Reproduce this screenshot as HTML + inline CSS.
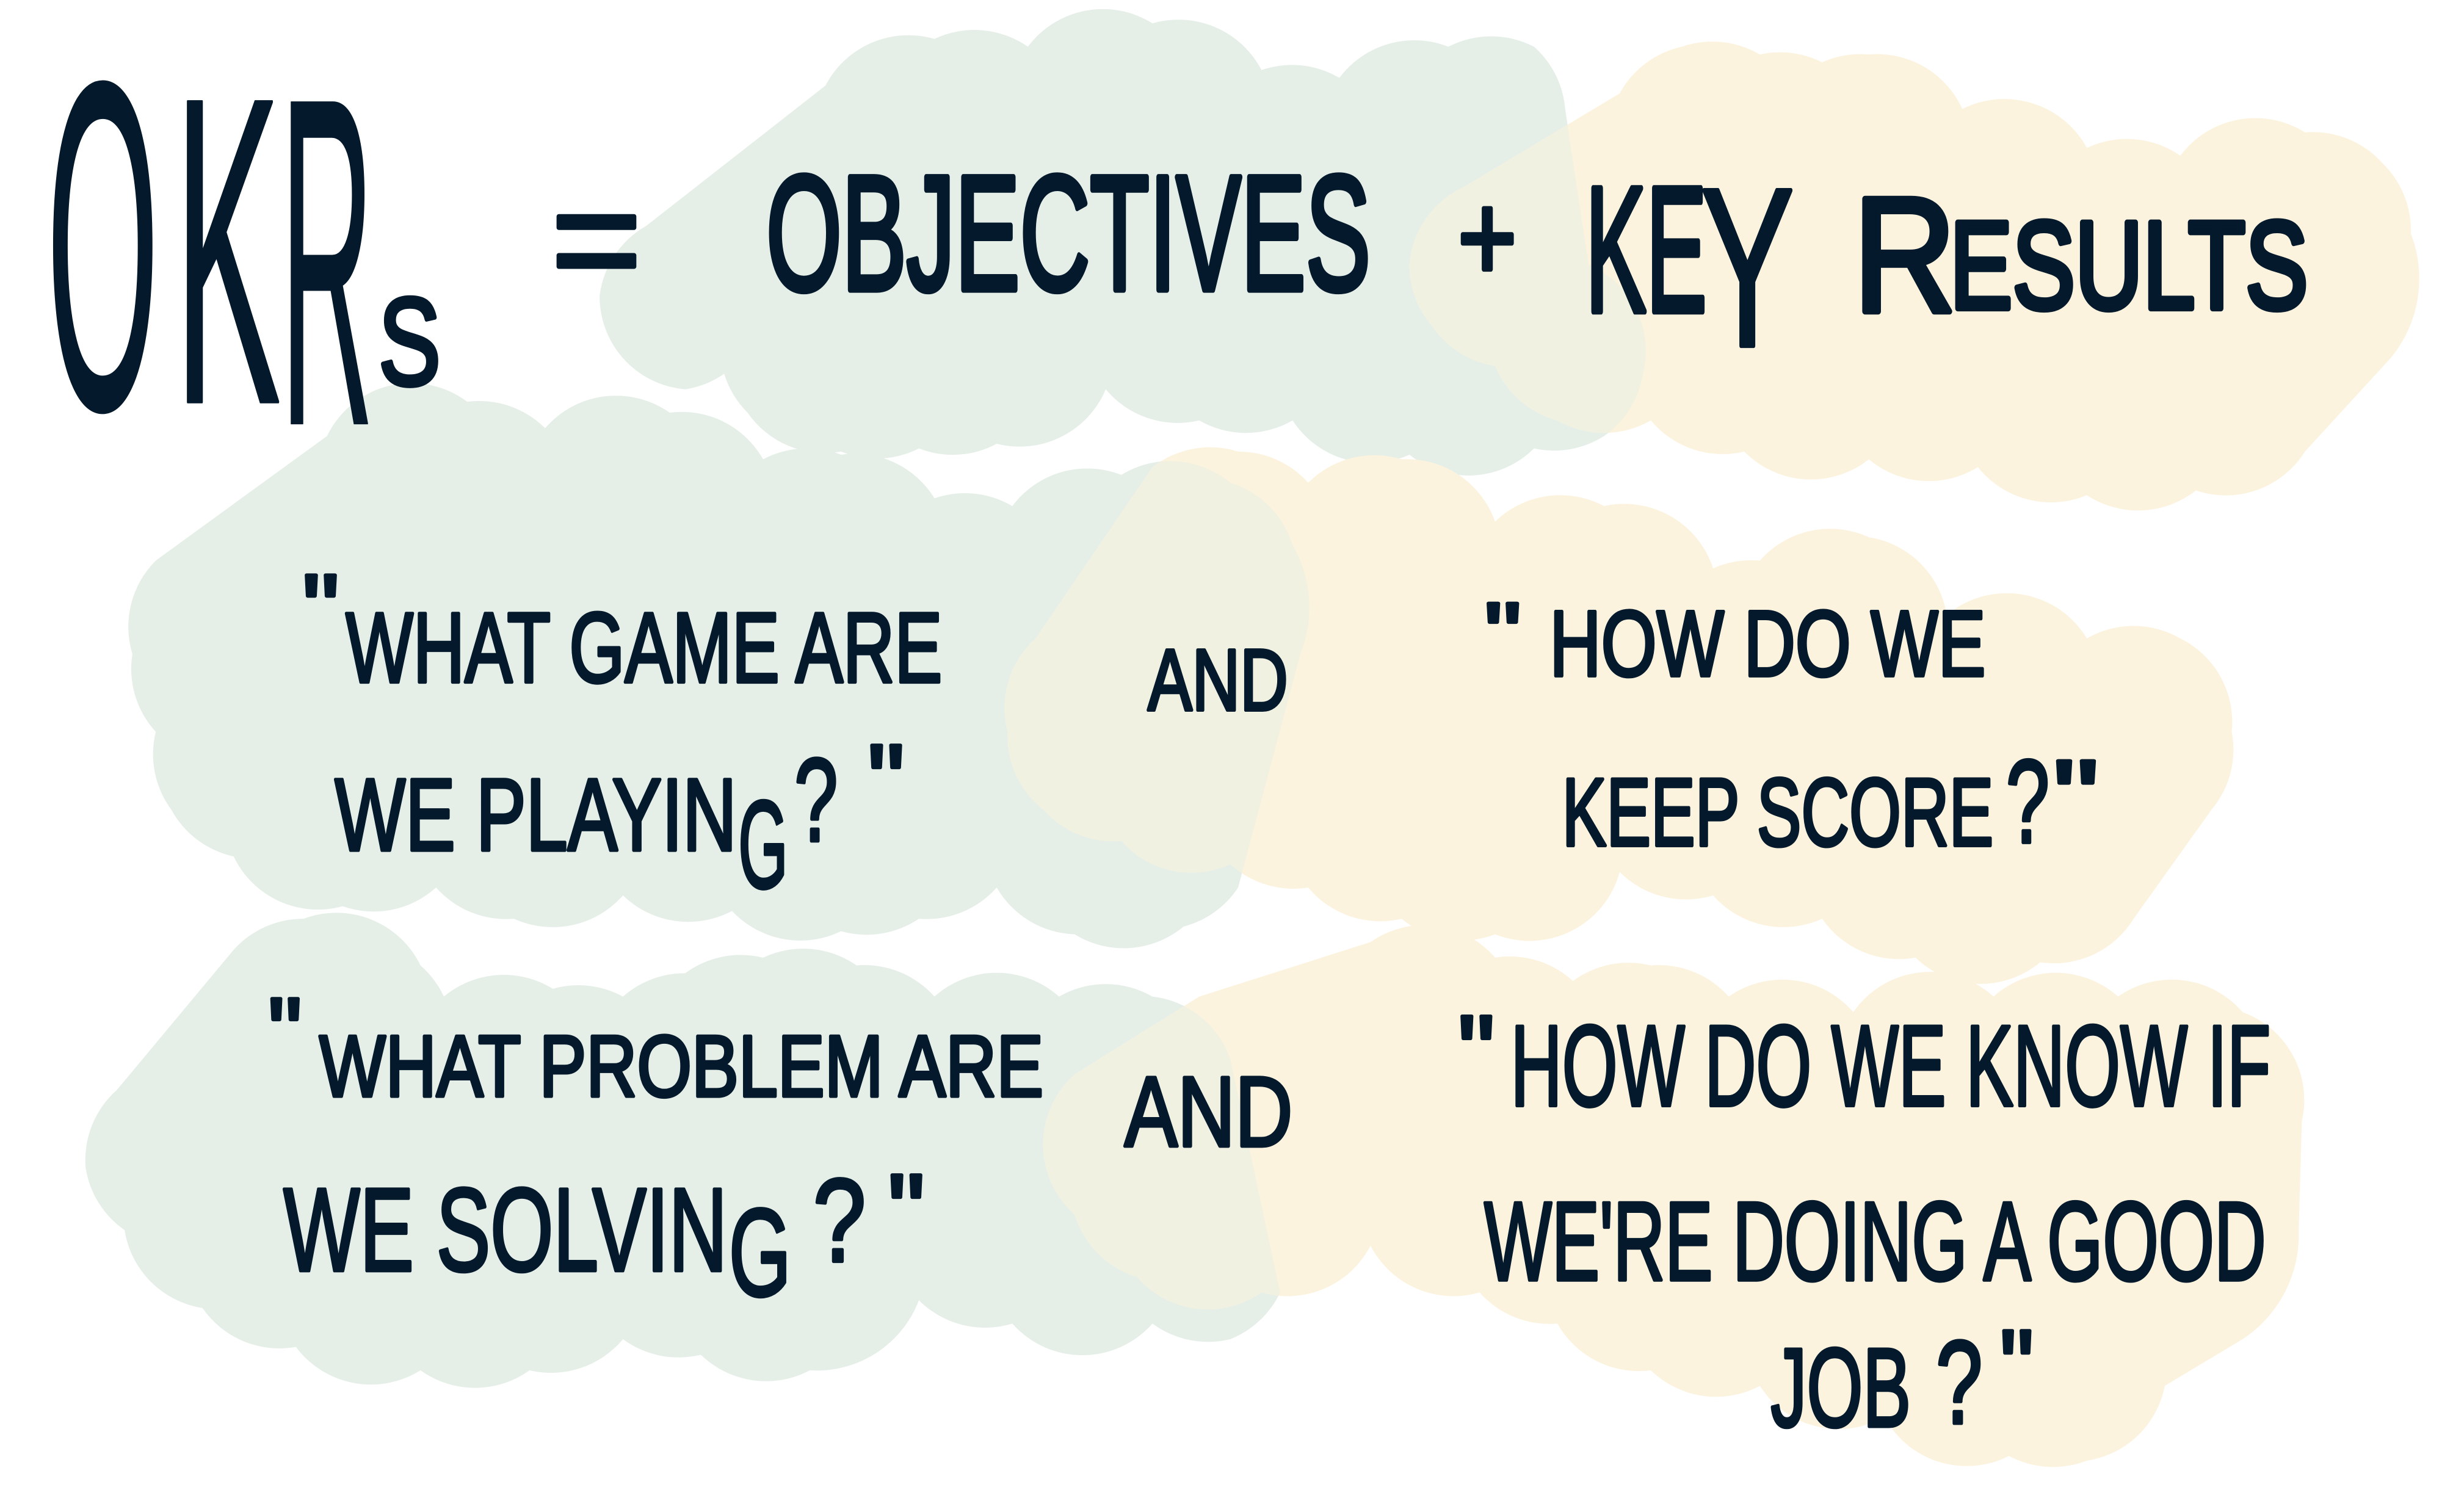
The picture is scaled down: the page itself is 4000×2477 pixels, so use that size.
<!DOCTYPE html>
<html><head><meta charset="utf-8"><style>
html,body{margin:0;padding:0;background:#fff}
svg{display:block}
text{font-family:"Liberation Sans",sans-serif;fill:#04192b;stroke:#04192b;stroke-linejoin:round;stroke-width:2.2}
</style></head><body>
<svg xmlns="http://www.w3.org/2000/svg" width="4000" height="2477" viewBox="0 0 1568 971">
<defs>
<path id="g1" d="M385 190A60 60 0 0 1 415 145L530 55A60 60 0 0 1 600 25A60 60 0 0 1 660 30A60 60 0 0 1 740 15A60 60 0 0 1 810 45A60 60 0 0 1 860 50A60 60 0 0 1 930 30A60 60 0 0 1 985 30A60 60 0 0 1 1005 70L1020 170A60 60 0 0 1 1055 240A60 60 0 0 1 1030 280A60 60 0 0 1 985 288A60 60 0 0 1 905 292A60 60 0 0 1 830 270A60 60 0 0 1 770 270A60 60 0 0 1 710 250A60 60 0 0 1 640 285A60 60 0 0 1 590 288A60 60 0 0 1 540 290A60 60 0 0 1 480 265A60 60 0 0 1 465 240A60 60 0 0 1 440 250A60 60 0 0 1 400 230A60 60 0 0 1 385 190Z"/>
<path id="y1" d="M905 170A60 60 0 0 1 940 120L1040 60A60 60 0 0 1 1080 30A60 60 0 0 1 1130 35A60 60 0 0 1 1170 40A60 60 0 0 1 1200 35A60 60 0 0 1 1260 70A60 60 0 0 1 1300 65A60 60 0 0 1 1340 95A60 60 0 0 1 1400 100A60 60 0 0 1 1480 85A60 60 0 0 1 1530 105A60 60 0 0 1 1548 150A80 80 0 0 1 1535 230L1480 290A60 60 0 0 1 1410 315A60 60 0 0 1 1340 318A60 60 0 0 1 1270 300A60 60 0 0 1 1200 295A60 60 0 0 1 1120 290A60 60 0 0 1 1060 270A60 60 0 0 1 1000 270A60 60 0 0 1 960 235A60 60 0 0 1 920 210A60 60 0 0 1 905 170Z"/>
<path id="g2" d="M85 420A60 60 0 0 1 100 360L210 280A60 60 0 0 1 300 258A60 60 0 0 1 350 275A60 60 0 0 1 430 265A60 60 0 0 1 490 295A60 60 0 0 1 540 292A60 60 0 0 1 600 320A60 60 0 0 1 650 325A60 60 0 0 1 720 305A60 60 0 0 1 790 310A60 60 0 0 1 830 350A80 80 0 0 1 835 420L795 570A60 60 0 0 1 760 595A60 60 0 0 1 690 600A60 60 0 0 1 640 570A60 60 0 0 1 590 590A60 60 0 0 1 540 598A60 60 0 0 1 470 585A60 60 0 0 1 400 575A60 60 0 0 1 330 590A60 60 0 0 1 280 570A60 60 0 0 1 220 582A60 60 0 0 1 150 550A60 60 0 0 1 110 520A60 60 0 0 1 100 470A60 60 0 0 1 85 420Z"/>
<path id="y2" d="M647 470A60 60 0 0 1 665 410L740 300A60 60 0 0 1 795 290A60 60 0 0 1 840 310A60 60 0 0 1 900 295A60 60 0 0 1 960 335A60 60 0 0 1 1030 325A60 60 0 0 1 1100 365A60 60 0 0 1 1130 360A60 60 0 0 1 1200 345A60 60 0 0 1 1250 395A60 60 0 0 1 1340 410A60 60 0 0 1 1400 410A60 60 0 0 1 1433 470A60 60 0 0 1 1420 520L1370 590A60 60 0 0 1 1310 618A60 60 0 0 1 1230 615A60 60 0 0 1 1170 590A60 60 0 0 1 1100 575A60 60 0 0 1 1040 560A60 60 0 0 1 960 600A60 60 0 0 1 900 590A60 60 0 0 1 840 570A60 60 0 0 1 790 555A60 60 0 0 1 720 540A60 60 0 0 1 670 520A60 60 0 0 1 647 470Z"/>
<path id="g3" d="M55 750A60 60 0 0 1 75 700L150 610A60 60 0 0 1 195 590A60 60 0 0 1 270 620A60 60 0 0 1 285 640A60 60 0 0 1 355 635A60 60 0 0 1 400 640A60 60 0 0 1 440 625A60 60 0 0 1 490 615A60 60 0 0 1 550 620A60 60 0 0 1 600 640A60 60 0 0 1 680 640A60 60 0 0 1 740 640A60 60 0 0 1 790 680L822 830A60 60 0 0 1 790 860A60 60 0 0 1 740 850A60 60 0 0 1 650 850A60 60 0 0 1 590 835A70 70 0 0 1 520 880A60 60 0 0 1 450 870A60 60 0 0 1 400 860A60 60 0 0 1 340 880A60 60 0 0 1 270 880A60 60 0 0 1 190 865A60 60 0 0 1 130 840A60 60 0 0 1 80 790A60 60 0 0 1 55 750Z"/>
<path id="y3" d="M670 740A60 60 0 0 1 690 690L770 640L880 605A60 60 0 0 1 960 615A60 60 0 0 1 1010 630A60 60 0 0 1 1060 620A60 60 0 0 1 1110 640A60 60 0 0 1 1190 650A60 60 0 0 1 1280 640A60 60 0 0 1 1360 640A60 60 0 0 1 1440 650A60 60 0 0 1 1478 720L1476 790A80 80 0 0 1 1440 860L1390 890A60 60 0 0 1 1340 938A60 60 0 0 1 1290 935A60 60 0 0 1 1210 910A60 60 0 0 1 1130 890A60 60 0 0 1 1060 880A60 60 0 0 1 1000 850A60 60 0 0 1 950 830A60 60 0 0 1 880 800A60 60 0 0 1 810 830A60 60 0 0 1 730 820A60 60 0 0 1 690 780A60 60 0 0 1 670 740Z"/>
<clipPath id="c1"><use href="#g1"/></clipPath>
<clipPath id="c2"><use href="#g2"/></clipPath>
<clipPath id="c3"><use href="#g3"/></clipPath>
</defs>
<rect width="1568" height="971" fill="#fff"/>
<g fill="#e5efe8"><use href="#g1"/><use href="#g2"/><use href="#g3"/></g>
<g fill="#fcf3de"><use href="#y1"/><use href="#y2"/><use href="#y3"/></g>
<g fill="#f1f1e2">
<g clip-path="url(#c1)"><use href="#y1"/></g>
<g clip-path="url(#c2)"><use href="#y2"/></g>
<g clip-path="url(#c3)"><use href="#y3"/></g>
</g>

<text x="30" y="262" font-size="300" textLength="72" lengthAdjust="spacingAndGlyphs" style="stroke-width:2">O</text>
<text x="112" y="258" font-size="280" textLength="68" lengthAdjust="spacingAndGlyphs" style="stroke-width:2">K</text>
<text x="180" y="272" font-size="300" textLength="60" lengthAdjust="spacingAndGlyphs" style="stroke-width:1">R</text>
<text x="243" y="247" font-size="80" textLength="40" lengthAdjust="spacingAndGlyphs" style="stroke-width:3">S</text>
<text x="354" y="188" font-size="100" textLength="58" lengthAdjust="spacingAndGlyphs" style="stroke-width:3">=</text>

<text x="492" y="186" font-size="105" textLength="388" lengthAdjust="spacingAndGlyphs" style="stroke-width:4">OBJECTIVES</text>
<text x="936" y="180" font-size="80" textLength="38" lengthAdjust="spacingAndGlyphs" style="stroke-width:3">+</text>
<text x="1018" y="200" font-size="115" textLength="78" lengthAdjust="spacingAndGlyphs" style="stroke-width:4">KE</text>
<text x="1092" y="222" font-size="145" textLength="60" lengthAdjust="spacingAndGlyphs" style="stroke-width:3">Y</text>
<text x="1190" y="200" font-size="105" textLength="66" lengthAdjust="spacingAndGlyphs" style="stroke-width:4">R</text>
<text x="1252" y="198" font-size="80" textLength="230" lengthAdjust="spacingAndGlyphs" style="stroke-width:4">ESULTS</text>

<text x="194" y="412" font-size="62" textLength="24" lengthAdjust="spacingAndGlyphs">"</text>
<text x="222" y="438" font-size="64" textLength="383" lengthAdjust="spacingAndGlyphs">WHAT GAME ARE</text>
<text x="215" y="546" font-size="66" textLength="258" lengthAdjust="spacingAndGlyphs">WE PLAYIN</text>
<text x="474" y="570" font-size="80" textLength="32" lengthAdjust="spacingAndGlyphs">G</text>
<text x="510" y="540" font-size="76" textLength="28" lengthAdjust="spacingAndGlyphs">?</text>
<text x="557" y="524" font-size="66" textLength="24" lengthAdjust="spacingAndGlyphs">"</text>
<text x="737" y="456" font-size="56" textLength="90" lengthAdjust="spacingAndGlyphs">AND</text>

<text x="953" y="426" font-size="56" textLength="24" lengthAdjust="spacingAndGlyphs">"</text>
<text x="995" y="434" font-size="60" textLength="280" lengthAdjust="spacingAndGlyphs">HOW DO WE</text>
<text x="1003" y="543" font-size="62" textLength="277" lengthAdjust="spacingAndGlyphs">KEEP SCORE</text>
<text x="1288" y="541" font-size="76" textLength="28" lengthAdjust="spacingAndGlyphs">?</text>
<text x="1318" y="534" font-size="66" textLength="30" lengthAdjust="spacingAndGlyphs">"</text>

<text x="172" y="684" font-size="62" textLength="22" lengthAdjust="spacingAndGlyphs">"</text>
<text x="205" y="704" font-size="56" textLength="465" lengthAdjust="spacingAndGlyphs">WHAT PROBLEM ARE</text>
<text x="182" y="816" font-size="76" textLength="285" lengthAdjust="spacingAndGlyphs">WE SOLVIN</text>
<text x="468" y="832" font-size="80" textLength="40" lengthAdjust="spacingAndGlyphs">G</text>
<text x="522" y="810" font-size="76" textLength="34" lengthAdjust="spacingAndGlyphs">?</text>
<text x="570" y="800" font-size="66" textLength="24" lengthAdjust="spacingAndGlyphs">"</text>
<text x="722" y="736" font-size="64" textLength="108" lengthAdjust="spacingAndGlyphs">AND</text>

<text x="936" y="698" font-size="66" textLength="24" lengthAdjust="spacingAndGlyphs">"</text>
<text x="970" y="710" font-size="74" textLength="488" lengthAdjust="spacingAndGlyphs">HOW DO WE KNOW IF</text>
<text x="953" y="822" font-size="72" textLength="502" lengthAdjust="spacingAndGlyphs">WE'RE DOING A GOOD</text>
<text x="1137" y="916" font-size="72" textLength="90" lengthAdjust="spacingAndGlyphs">JOB</text>
<text x="1243" y="914" font-size="76" textLength="30" lengthAdjust="spacingAndGlyphs">?</text>
<text x="1284" y="900" font-size="66" textLength="22" lengthAdjust="spacingAndGlyphs">"</text>
</svg>
</body></html>
